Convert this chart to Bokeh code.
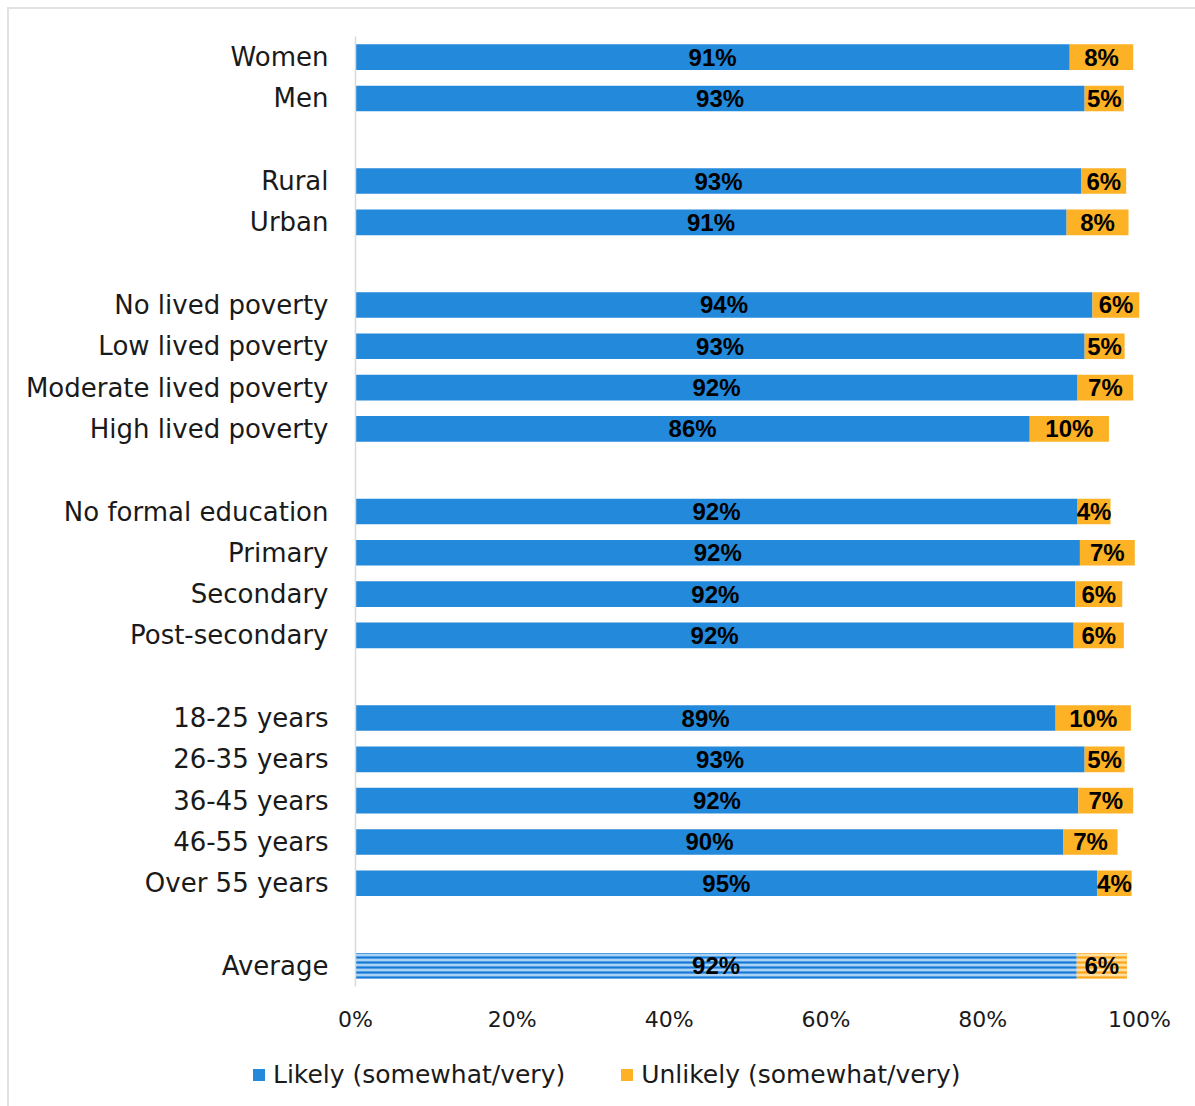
from bokeh.plotting import figure
from bokeh.layouts import column, row
from bokeh.models import Range1d, Legend, LegendItem, ColumnDataSource, FixedTicker
from bokeh.core.properties import value
from bokeh.embed import file_html
from bokeh.resources import INLINE

# ---- data ----
groups = [
    ["Women", "Men"],
    ["Rural", "Urban"],
    ["No lived poverty", "Low lived poverty", "Moderate lived poverty", "High lived poverty"],
    ["No formal education", "Primary", "Secondary", "Post-secondary"],
    ["18-25 years", "26-35 years", "36-45 years", "46-55 years", "Over 55 years"],
    ["Average"],
]
likely = [91.1, 93.0, 92.6, 90.7, 94.0, 93.0, 92.1, 86.0, 92.1, 92.4, 91.8, 91.6,
          89.3, 93.0, 92.2, 90.3, 94.6, 92.0]
unlikely = [8.1, 5.0, 5.7, 7.9, 6.0, 5.1, 7.1, 10.1, 4.2, 7.0, 6.0, 6.4,
            9.6, 5.1, 7.0, 6.9, 4.4, 6.4]
series_names = ["Likely (somewhat/very)", "Unlikely (somewhat/very)"]
x_ticks = [0, 20, 40, 60, 80, 100]
x_tick_labels = ["0%", "20%", "40%", "60%", "80%", "100%"]

# ---- layout of category slots (one blank slot between groups) ----
cats, slots = [], []
s = 0
for g in groups:
    for c in g:
        cats.append(c)
        slots.append(s)
        s += 1
    s += 1
n_slots = slots[-1] + 1

BLUE = "#2389DB"
ORANGE = "#FDB124"
FONT = "DejaVu Sans"

is_avg = [c == "Average" for c in cats]
def sub(lst, flag):
    return [v for v, a in zip(lst, is_avg) if a == flag]

right_total = [l + u for l, u in zip(likely, unlikely)]
src_main = ColumnDataSource(dict(y=sub(slots, False), l=sub(likely, False),
                                 r=sub(right_total, False)))
src_avg = ColumnDataSource(dict(y=sub(slots, True), l=sub(likely, True),
                                r=sub(right_total, True)))

p = figure(width=1190, height=1037, output_backend="svg", toolbar_location=None,
           x_range=Range1d(0, 100), y_range=Range1d(n_slots - 0.5, -0.5),
           min_border_left=346, min_border_right=60, min_border_top=27,
           min_border_bottom=60)
p.outline_line_color = None
p.xgrid.visible = False
p.ygrid.visible = False
p.background_fill_color = "white"

H = 0.62
r_blue = p.hbar(y="y", left=0, right="l", height=H, source=src_main,
                fill_color=BLUE, line_color=None)
r_orange = p.hbar(y="y", left="l", right="r", height=H, source=src_main,
                  fill_color=ORANGE, line_color=None)
p.hbar(y="y", left=0, right="l", height=H, source=src_avg,
       fill_color="#a9d2f4", line_color=None,
       hatch_pattern="horizontal_line", hatch_color="#1479d6",
       hatch_scale=5, hatch_weight=2.2)
p.hbar(y="y", left="l", right="r", height=H, source=src_avg,
       fill_color="#ffe0a0", line_color=None,
       hatch_pattern="horizontal_line", hatch_color="#fca51a",
       hatch_scale=5, hatch_weight=2.2)

# value labels
lab_src = ColumnDataSource(dict(
    x1=[v / 2 for v in likely],
    x2=[l + u / 2 for l, u in zip(likely, unlikely)],
    y=slots,
    t1=[f"{round(v)}%" for v in likely],
    t2=[f"{round(v)}%" for v in unlikely],
))
for xcol, tcol in (("x1", "t1"), ("x2", "t2")):
    p.text(x=xcol, y="y", text=tcol, source=lab_src, text_align="center",
           text_baseline="middle", text_font=value("Liberation Sans"),
           text_font_style="bold", text_font_size="24px", text_color="black")

# axes
p.xaxis.ticker = FixedTicker(ticks=x_ticks)
p.xaxis.major_label_overrides = {t: l for t, l in zip(x_ticks, x_tick_labels)}
p.xaxis.axis_line_color = None
p.xaxis.major_tick_line_color = None
p.xaxis.minor_tick_line_color = None
p.xaxis.major_label_text_font = FONT
p.xaxis.major_label_text_font_size = "22px"
p.xaxis.major_label_text_color = "#1a1a1a"
p.xaxis.major_label_standoff = 14

p.yaxis.ticker = FixedTicker(ticks=slots)
p.yaxis.major_label_overrides = {s_: c for s_, c in zip(slots, cats)}
p.yaxis.axis_line_color = "#d9d9d9"
p.yaxis.axis_line_width = 1.5
p.yaxis.major_tick_line_color = None
p.yaxis.minor_tick_line_color = None
p.yaxis.major_label_text_font = FONT
p.yaxis.major_label_text_font_size = "26px"
p.yaxis.major_label_text_color = "#1a1a1a"
p.yaxis.major_label_standoff = 21

# ---- legend strip ----
leg = figure(width=1190, height=70, output_backend="svg", toolbar_location=None,
             x_range=Range1d(0, 1), y_range=Range1d(0, 1),
             x_axis_type=None, y_axis_type=None, min_border=0)
leg.outline_line_color = None
leg.xgrid.visible = False
leg.ygrid.visible = False
# swatch renderers, drawn outside the visible range (legend keys only)
dummy = ColumnDataSource(dict(y=[5], l=[5], r=[6]))
lb = leg.hbar(y="y", left="l", right="r", height=1, source=dummy,
              fill_color=BLUE, line_color=None)
lo = leg.hbar(y="y", left="l", right="r", height=1, source=dummy,
              fill_color=ORANGE, line_color=None)
legend = Legend(items=[LegendItem(label=series_names[0], renderers=[lb]),
                       LegendItem(label=series_names[1], renderers=[lo])],
                orientation="horizontal", location=(242, 27),
                border_line_color=None, background_fill_alpha=0,
                padding=0, margin=0, spacing=54,
                glyph_width=15, glyph_height=15, label_standoff=7,
                label_text_font=FONT, label_text_font_size="25px",
                label_text_color="#1a1a1a")
leg.add_layout(legend)

layout = column(p, row(leg), spacing=0,
                styles={"margin-left": "7px", "margin-top": "7px",
                        "border": "2px solid #e2e2e2"})

open("out.html", "w").write(file_html(layout, INLINE))
